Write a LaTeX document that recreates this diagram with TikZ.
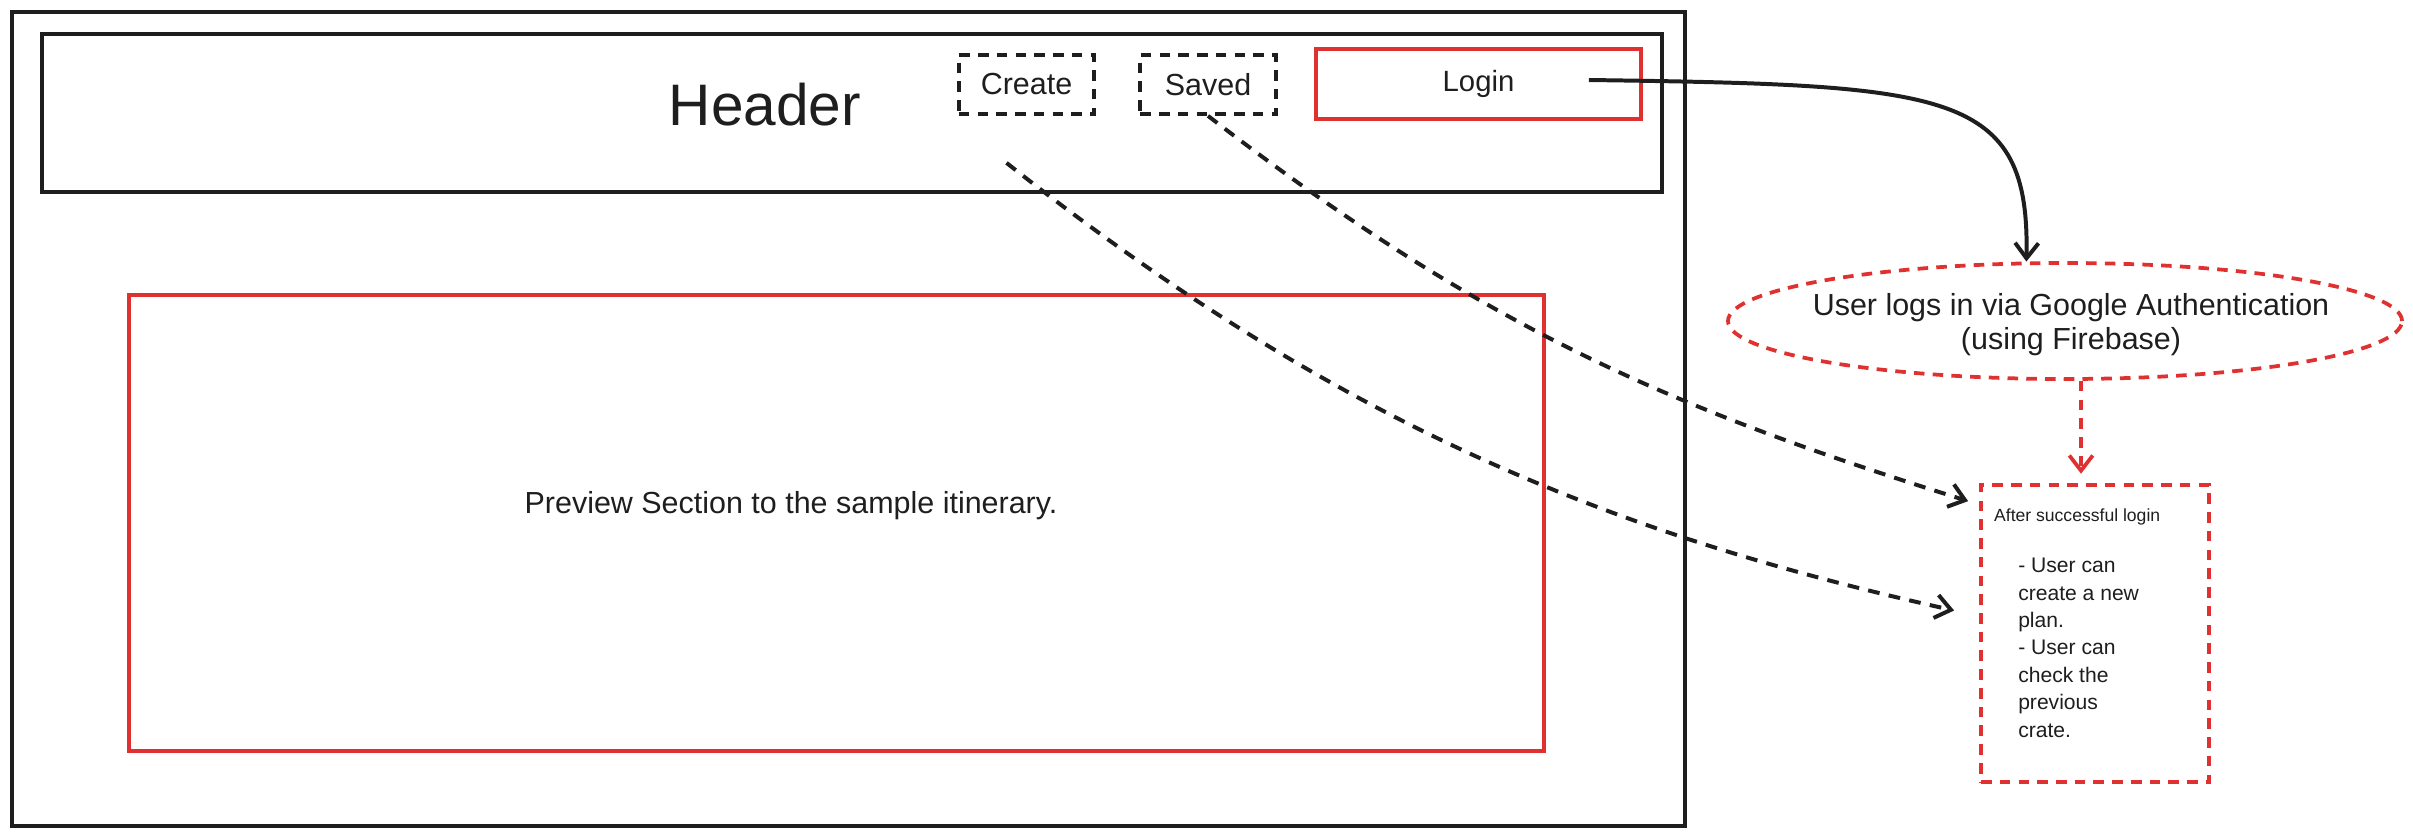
\documentclass[tikz,border=0pt]{standalone}
\usepackage{fontspec}
\setmainfont{Liberation Sans}
\usepackage{tikz}
\usetikzlibrary{shapes.geometric,arrows.meta,calc}
\definecolor{inkblack}{HTML}{1E1E1E}
\definecolor{inkred}{HTML}{E03131}

\tikzset{
  pagebox/.style={draw=inkblack, line width=3.2pt, inner sep=0pt},
  menubtn/.style={draw=inkblack, line width=3.2pt, dash pattern=on 9pt off 7pt, inner sep=0pt,
    minimum width=4.06cm, minimum height=1.77cm, font=\fontsize{26}{30}\selectfont},
  loginbtn/.style={draw=inkred, line width=3.2pt, inner sep=0pt,
    minimum width=9.75cm, minimum height=2.1cm, font=\fontsize{25}{30}\selectfont},
  previewbox/.style={draw=inkred, line width=2.8pt, inner sep=0pt},
  authbubble/.style={ellipse, draw=inkred, line width=3.2pt, dash pattern=on 9pt off 7pt, inner sep=0pt},
  resultbox/.style={draw=inkred, line width=3.2pt, dash pattern=on 9pt off 7pt, inner sep=0pt},
  flow/.style={draw=inkblack, line width=3.4pt, -{Straight Barb[length=13pt,width=20pt]}},
  dashflow/.style={flow, dash pattern=on 10pt off 8pt},
  redflow/.style={draw=inkred, line width=3.2pt, dash pattern=on 9pt off 7pt, -{Straight Barb[length=13pt,width=20pt]}}
}

\begin{document}
\begin{tikzpicture}[x=0.03cm, y=-0.03cm, text=inkblack]
            \useasboundingbox (0,0) rectangle (2413,836);

            % Define the page frame and the header bar
            \node[pagebox, minimum width=50.19cm, minimum height=24.42cm] (page) at (848.5,419) {};
            \node[pagebox, minimum width=48.6cm, minimum height=4.74cm] (header) at (852,113) {};
            \node[font=\fontsize{50}{54}\selectfont] (headertitle) at (765,105) {Header};

            % Define the menu buttons
            \node[menubtn] (create) at (1026.5,84.5) {Create};
            \node[menubtn] (saved) at (1208,84.5) {Saved};
            \node[loginbtn] (login) at (1478.5,84) {Login};

            % Define the preview section
            \node[previewbox, minimum width=42.45cm, minimum height=13.68cm] (preview) at (836.5,523) {};
            \node[font=\fontsize{26}{30}\selectfont] (previewtext) at (791,506) {Preview Section to the sample itinerary.};

            % Define the login step (Google Authentication)
            \node[authbubble, minimum width=20.22cm, minimum height=3.48cm] (auth) at (2065,321) {};
            \node[font=\fontsize{26}{29}\selectfont, align=center] (authtext) at (2071,325)
                {User logs in via Google Authentication\\(using Firebase)};

            % Define the result after login
            \node[resultbox, minimum width=6.84cm, minimum height=8.91cm] (result) at (2095,633.5) {};
            \node[font=\fontsize{15}{18}\selectfont, anchor=west] (resulttitle) at (1990,517) {After successful login};
            \node[font=\fontsize{18}{23.4}\selectfont, anchor=north west, align=left, inner sep=0pt] (resultlist) at (2018,558)
                {- User can\\create a new\\plan.\\- User can\\check the\\previous\\crate.};

            % Add the connectors
            \coordinate (loginhook) at ($(login.east)+(-54,-4)$);
            \draw[flow] (loginhook) .. controls (1950,85) and (2030,90) .. (auth.123);
            \draw[redflow, shorten >=8pt] (auth.-75) -- (auth.-75 |- result.north);
            \draw[dashflow] (saved.south) .. controls (1485,329) and (1670,408) .. ($(result.north west)+(-11,18)$);
            \draw[dashflow] ($(create.south)+(-20,47)$) .. controls (1337,423) and (1606,533) .. ($(result.west)+(-25,-23)$);

        \end{tikzpicture}
\end{document}
